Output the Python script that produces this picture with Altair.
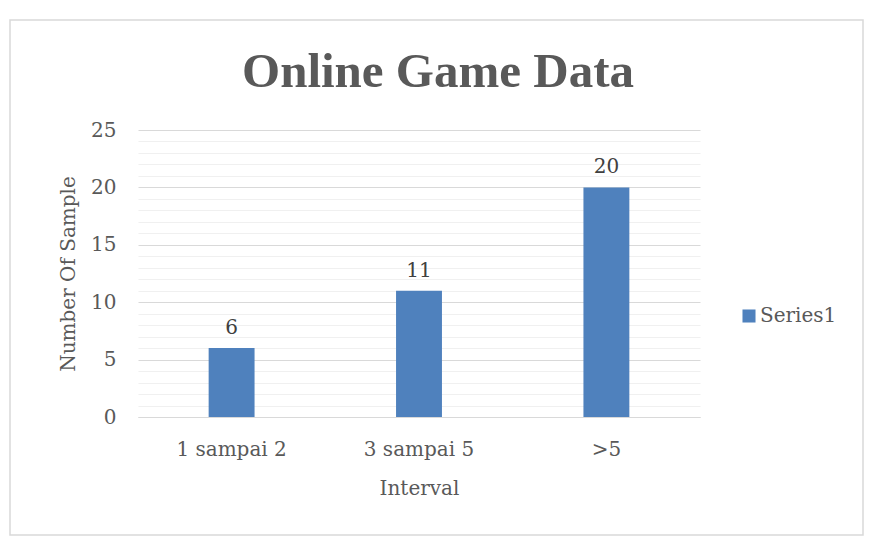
import altair as alt
import pandas as pd

categories = ["1 sampai 2", "3 sampai 5", ">5"]
values = [6, 11, 20]
series = ["Series1", "Series1", "Series1"]

df = pd.DataFrame({"Interval": categories, "Count": values, "Series": series})

FONT = "DejaVu Serif"
TITLE_FONT = "Liberation Serif"
GREY = "#595959"
BLUE = "#4f81bd"

base = alt.Chart(df)

x_enc = alt.X("Interval:N", sort=categories,
              scale=alt.Scale(paddingInner=0.755, paddingOuter=0.377),
              axis=alt.Axis(title="Interval", labelAngle=0, ticks=False,
                            domain=True, domainColor="#d9d9d9",
                            labelFontSize=20, titleFontSize=20,
                            labelColor=GREY, titleColor=GREY,
                            labelFont=FONT, titleFont=FONT,
                            labelPadding=22, titlePadding=19,
                            titleFontWeight="normal"))
y_enc = alt.Y("Count:Q",
              scale=alt.Scale(domain=[0, 25], nice=False),
              axis=alt.Axis(title="Number Of Sample", values=list(range(0, 26)),
                            tickCount=40, labelOverlap=False, format="d",
                            labelExpr="datum.value % 5 === 0 ? datum.label : ''",
                            ticks=False, domain=False,
                            gridColor=alt.condition("datum.value % 5 === 0",
                                                    alt.value("#d9d9d9"),
                                                    alt.value("#f0f0f0")),
                            gridWidth=1.2,
                            labelFontSize=20, titleFontSize=20,
                            labelColor=GREY, titleColor=GREY,
                            labelFont=FONT, titleFont=FONT,
                            labelPadding=22, titlePadding=12,
                            titleFontWeight="normal"))

bars = base.mark_bar(color=BLUE).encode(
    x=x_enc, y=y_enc,
    color=alt.Color("Series:N", scale=alt.Scale(range=[BLUE]),
                    legend=alt.Legend(title=None, orient="none", legendX=601, legendY=176,
                                      symbolType="square", symbolSize=170,
                                      labelOffset=1,
                                      labelFont=FONT, labelFontSize=20,
                                      labelColor=GREY, symbolStrokeWidth=0))
)

text = base.mark_text(dy=-20, font=FONT, fontSize=20, color="#404040").encode(
    x=alt.X("Interval:N", sort=categories), y="Count:Q", text="Count:Q")

border = alt.Chart(pd.DataFrame({"a": [0]})).mark_rect(
    fill=None, stroke="#d9d9d9", strokeWidth=1.5).encode(
    x=alt.value(-128), x2=alt.value(725), y=alt.value(-110), y2=alt.value(405))

chart = alt.layer(border, bars, text).properties(
    width=562, height=287,
    title=alt.Title("Online Game Data", font=TITLE_FONT, fontSize=49, fontWeight="bold",
                    color=GREY, anchor="middle", offset=-78, dx=19),
    autosize=alt.AutoSizeParams(type="none"),
    padding={"left": 130, "top": 122, "right": 172, "bottom": 122},
).configure_view(stroke=None)

chart.save("out.html", embed_options={"renderer": "svg", "actions": False})
